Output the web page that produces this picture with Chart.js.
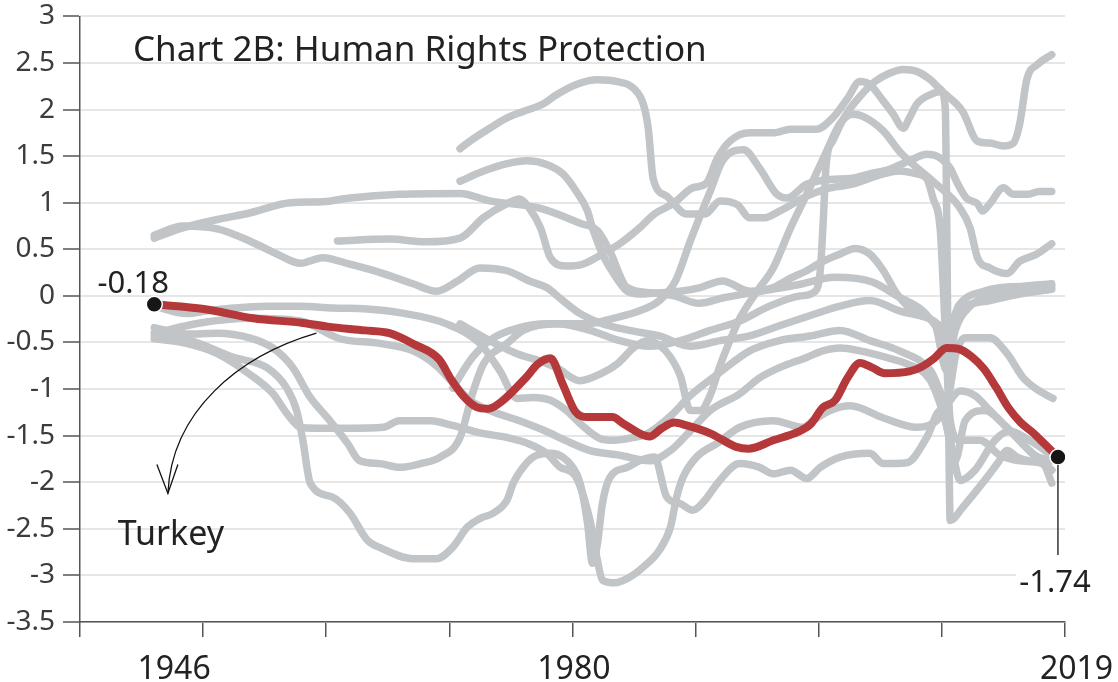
<!DOCTYPE html>
<html><head><meta charset="utf-8">
<script src="https://cdn.jsdelivr.net/npm/chart.js@4"></script>
<style>html,body{margin:0;padding:0;background:#fff;}canvas{display:block;}</style>
</head><body>
<canvas id="c" width="1118" height="682"></canvas>
<script>
// ---------- text ----------
const chartTitle = 'Chart 2B: Human Rights Protection';
const highlightName = 'Turkey';
const endValueLabels = ['-0.18', '-1.74'];
const xTickLabels = ['1946', '1980', '2019'];

// ---------- axes ----------
const yMin = -3.5, yMax = 3, yStep = 0.5;
const xMin = 1940, xMax = 2019.57;

// ---------- data: [year, score] ----------
const turkey = [[1946,-0.09],[1950,-0.14],[1954,-0.24],[1958,-0.29],[1960,-0.33],[1963,-0.37],[1965,-0.4],[1967,-0.52],[1969,-0.68],[1970,-0.9],[1971,-1.08],[1972,-1.19],[1973,-1.21],[1974,-1.14],[1976,-0.88],[1977,-0.73],[1978,-0.67],[1979,-0.95],[1980,-1.24],[1981,-1.3],[1983,-1.3],[1984,-1.38],[1986,-1.51],[1987,-1.42],[1988,-1.36],[1989,-1.39],[1991,-1.48],[1993,-1.62],[1994,-1.64],[1996,-1.55],[1998,-1.46],[1999,-1.38],[2000,-1.2],[2001,-1.12],[2002,-0.88],[2003,-0.72],[2004,-0.77],[2005,-0.83],[2007,-0.81],[2008,-0.76],[2009,-0.67],[2010,-0.56],[2011,-0.57],[2012,-0.65],[2013,-0.78],[2014,-0.98],[2015,-1.2],[2016,-1.36],[2017,-1.47],[2018,-1.6],[2019,-1.73]];

const countryA = [[1946,0.62],[1948.3,0.73],[1951.1,0.82],[1953.7,0.89],[1957,1.0],[1959.6,1.01],[1961.8,1.05],[1965.8,1.09],[1970.7,1.1],[1973.1,1.02],[1977.2,0.94],[1980.4,0.78],[1981.8,0.7],[1982.8,0.48],[1984.2,0.09],[1986.4,0.03],[1988,0.0],[1990,-0.08],[1992,-0.02],[1995,0.05],[1998,0.12],[2001,0.2],[2004,0.15],[2006,0.0],[2008,-0.15],[2010,-0.4],[2011,-0.1],[2013,0.05],[2016,0.1],[2018.5,0.1]];
const countryB = [[1960.8,0.59],[1965,0.61],[1967.9,0.58],[1970.7,0.62],[1972.6,0.84],[1974.5,0.99],[1975.5,1.04],[1976.3,0.94],[1977.2,0.73],[1978,0.41],[1979.3,0.32],[1980.6,0.34],[1982.2,0.45],[1983.6,0.56],[1985.2,0.73],[1986.4,0.88],[1987.9,0.99],[1989.5,1.16],[1990.6,1.21],[1991.5,1.48],[1992.5,1.66],[1994.1,1.75],[1996,1.75],[1997.4,1.79],[1999.5,1.79],[2000.8,1.91],[2002,2.12],[2003,2.3],[2003.8,2.27],[2004.9,2.09],[2005.7,1.95],[2006.5,1.8],[2007,1.91],[2007.6,2.06],[2008.7,2.16],[2009.5,2.19],[2010.3,2.12],[2011.3,1.98],[2012.5,1.66],[2013.5,1.64],[2014.6,1.61],[2015.4,1.64],[2015.9,1.84],[2016.5,2.33],[2017.3,2.48],[2018.5,2.59]];
const countryC = [[1970.7,1.58],[1971.7,1.68],[1973.1,1.8],[1974.5,1.91],[1975.8,1.98],[1977.4,2.06],[1978.5,2.16],[1980.1,2.27],[1981.8,2.32],[1983.4,2.3],[1984.7,2.23],[1985.5,2.06],[1985.9,1.8],[1986.3,1.26],[1987.4,1.07],[1989,0.88],[1990.5,0.88],[1991.7,1.02],[1993.1,0.98],[1994.1,0.84],[1995.3,0.84],[1996.5,0.91],[1998.7,1.07],[2000.3,1.15],[2002.4,1.2],[2004.9,1.31],[2006.2,1.34],[2007.6,1.31],[2008.4,1.26],[2008.9,1.05],[2009.5,0.7],[2009.9,-0.37],[2010.3,-1.34],[2011.1,-1.55],[2012.7,-1.55],[2014.3,-1.71],[2015.9,-1.77],[2017.5,-1.79],[2018.5,-1.87]];
const countryD = [[1970.7,1.23],[1972.6,1.34],[1974.5,1.42],[1976.1,1.45],[1977.7,1.41],[1979,1.31],[1980.1,1.12],[1981,0.91],[1981.4,0.73],[1982.2,0.45],[1983.1,0.24],[1984.2,0.05],[1985.2,0.02],[1986.4,0.03],[1988.5,0.05],[1990.1,0.09],[1991.9,0.16],[1994.1,0.05],[1996,0.09],[1997.4,0.19],[1998.7,0.27],[2000,0.37],[2001.4,0.45],[2002.6,0.51],[2003.8,0.45],[2004.9,0.27],[2006,0.02],[2007.6,-0.19],[2009.1,-0.32],[2010,-0.8],[2010.7,-0.37],[2011.9,-0.11],[2013.5,0],[2015.7,0.09],[2018.5,0.13]];
const countryE = [[1946,-0.11],[1948.6,-0.19],[1950.3,-0.16],[1952.4,-0.13],[1955.1,-0.11],[1957.8,-0.11],[1960.4,-0.13],[1963.2,-0.14],[1965.8,-0.18],[1969.6,-0.3],[1972.3,-0.51],[1973.9,-0.8],[1975.3,-1.1],[1976.6,-1.09],[1978,-1.12],[1979.3,-1.23],[1980.4,-1.37],[1982,-1.53],[1983.1,-1.55],[1984.7,-1.52],[1985.8,-1.48],[1987.7,-1.29],[1989.3,-1.07],[1991.7,-0.82],[1994.1,-0.59],[1996.5,-0.48],[1999,-0.43],[2001.4,-0.37],[2003.8,-0.48],[2006.2,-0.59],[2008.7,-0.8],[2010,-1.12],[2010.8,-0.6],[2011.5,-0.45],[2013.5,-0.45],[2014.9,-0.62],[2016.2,-0.88],[2017.5,-1.02],[2018.6,-1.1]];
const countryF = [[1946,0.65],[1948.3,0.75],[1951.1,0.72],[1953.7,0.59],[1955.9,0.45],[1957.8,0.35],[1959.6,0.41],[1961.8,0.34],[1964.5,0.24],[1966.9,0.13],[1968.8,0.05],[1970.5,0.16],[1972.3,0.3],[1974.5,0.27],[1976.3,0.16],[1977.7,0.09],[1979,-0.05],[1980.4,-0.19],[1982,-0.29],[1984.4,-0.37],[1986.8,-0.43],[1989.3,-0.54],[1991.7,-0.48],[1994.1,-0.43],[1996.5,-0.32],[1999,-0.21],[2001.4,-0.11],[2003.8,-0.05],[2006.2,-0.16],[2008.7,-0.25],[2010.3,-0.37],[2011.1,-0.16],[2013.5,-0.05],[2015.9,0.02],[2018.5,0.07]];
const countryG = [[1946,-0.4],[1949.7,-0.29],[1953.7,-0.24],[1957.8,-0.27],[1961,-0.46],[1964.2,-0.51],[1966.9,-0.59],[1968.8,-0.75],[1970.3,-0.96],[1971.5,-1.12],[1973.1,-1.23],[1975.5,-1.34],[1977.6,-1.45],[1979.2,-1.55],[1981.2,-1.66],[1983.6,-1.71],[1986,-1.77],[1987.7,-1.66],[1989.3,-1.45],[1990.9,-1.23],[1993.3,-1.05],[1994.9,-0.88],[1996.5,-0.77],[1998.7,-0.66],[2000,-0.59],[2001.4,-0.56],[2003,-0.59],[2005.4,-0.67],[2006.8,-0.73],[2008.7,-0.91],[2009.9,-1.34],[2010.7,-1.77],[2011.5,-1.34],[2013.1,-1.23],[2014.7,-1.39],[2016.3,-1.61],[2018.5,-1.87]];
const countryH = [[1970.1,-0.99],[1971.7,-0.66],[1973.4,-0.45],[1975.5,-0.34],[1977.7,-0.3],[1981,-0.3],[1983.1,-0.24],[1985.2,-0.16],[1986.8,-0.05],[1988.1,0.16],[1989.3,0.59],[1990.1,0.86],[1990.9,1.12],[1991.9,1.45],[1993.6,1.57],[1994.9,1.37],[1996.3,1.09],[1997.1,1.05],[1998.7,1.2],[2000.6,1.25],[2002.2,1.26],[2003.8,1.31],[2005.4,1.36],[2007,1.45],[2008.4,1.52],[2009.5,1.48],[2010.3,1.37],[2010.8,1.23],[2011.6,1.05],[2012.5,0.99],[2012.9,0.91],[2013.5,0.99],[2014.6,1.16],[2015.4,1.09],[2016.5,1.09],[2017.5,1.12],[2018.5,1.12]];
const countryI = [[1970.7,-0.3],[1973.1,-0.48],[1975.3,-0.62],[1977.2,-0.7],[1978.5,-0.77],[1980.4,-0.91],[1982,-0.84],[1983.4,-0.73],[1984.7,-0.56],[1985.8,-0.48],[1987.3,-0.59],[1988.5,-0.86],[1989.3,-1.23],[1990.1,-1.23],[1990.9,-1.07],[1991.7,-0.75],[1992.5,-0.48],[1993.3,-0.24],[1994.7,0.05],[1996,0.3],[1997.4,0.73],[1998.7,1.09],[2000.3,1.55],[2001.4,1.85],[2002.4,1.95],[2003.2,1.93],[2004.9,1.77],[2006.2,1.55],[2007.3,1.41],[2008.9,1.23],[2011.1,0.94],[2011.9,0.73],[2012.5,0.41],[2013.5,0.3],[2014.9,0.24],[2015.9,0.37],[2017.3,0.45],[2018.5,0.56]];
const countryJ = [[1946,-0.34],[1948.6,-0.41],[1951.1,-0.4],[1953.7,-0.45],[1955.6,-0.56],[1957.2,-0.77],[1958.6,-1.09],[1960,-1.31],[1961.6,-1.58],[1962.6,-1.77],[1964.2,-1.8],[1965.8,-1.84],[1967.5,-1.8],[1969.1,-1.73],[1970.7,-1.52],[1971.7,-1.05],[1972.6,-0.73],[1974.5,-0.51],[1975.8,-0.37],[1978.5,-0.3],[1981.2,-0.37],[1983.6,-0.48],[1986,-0.54],[1988.5,-0.48],[1990.9,-0.37],[1993.3,-0.27],[1995.7,-0.11],[1998.2,0],[1999.4,0.05],[1999.8,0.27],[2000,0.7],[2000.3,1.45],[2000.8,1.66],[2001.8,1.93],[2003,2.14],[2004.2,2.3],[2005.4,2.39],[2006.5,2.43],[2007.6,2.41],[2008.7,2.32],[2009.5,2.22],[2009.9,2.01],[2010,1.02],[2010.1,-0.37],[2010.3,-2.41],[2011.3,-2.27],[2012.9,-2.01],[2014.1,-1.8],[2014.9,-1.66],[2015.7,-1.73],[2016.7,-1.77],[2017.8,-1.8],[2018.5,-2.01]];
const countryK = [[1946,-0.46],[1948.6,-0.51],[1951.1,-0.62],[1953.7,-0.84],[1955.6,-1.05],[1956.7,-1.26],[1957.8,-1.41],[1959.1,-1.42],[1961.8,-1.42],[1964.5,-1.41],[1965.8,-1.34],[1968.3,-1.34],[1970.1,-1.39],[1972.3,-1.47],[1974.5,-1.52],[1976.1,-1.58],[1977.7,-1.69],[1978.8,-1.84],[1980,-1.93],[1981.2,-2.41],[1981.8,-2.84],[1982.2,-3.05],[1983.2,-3.08],[1984.4,-3.02],[1985.5,-2.91],[1986.8,-2.73],[1987.7,-2.48],[1988.2,-2.16],[1988.7,-1.95],[1989.8,-1.73],[1991.5,-1.58],[1993.3,-1.41],[1996,-1.34],[1998.4,-1.41],[1999.2,-1.34],[2000.6,-1.23],[2002.2,-1.18],[2004.9,-1.31],[2007.6,-1.41],[2009.2,-1.34],[2010.3,-1.12],[2011.1,-1.02],[2012.3,-1.07],[2013.5,-1.23],[2014.7,-1.39],[2015.9,-1.55],[2017.1,-1.71],[2018.5,-1.77]];
const countryL = [[1946,-0.43],[1948.9,-0.48],[1952.4,-0.66],[1955.1,-0.77],[1956.7,-0.99],[1957.5,-1.23],[1958,-1.55],[1958.6,-2.01],[1960.4,-2.16],[1961.8,-2.33],[1963.2,-2.62],[1964.2,-2.7],[1966.9,-2.82],[1968.8,-2.82],[1970.1,-2.7],[1971.3,-2.48],[1972.3,-2.39],[1973.4,-2.33],[1974.5,-2.19],[1975,-2.01],[1975.8,-1.84],[1976.6,-1.73],[1978,-1.69],[1979,-1.73],[1979.8,-1.84],[1980.4,-2.01],[1981,-2.44],[1981.4,-2.87],[1981.8,-2.66],[1982.2,-2.23],[1982.8,-1.95],[1984.2,-1.84],[1985.2,-1.77],[1986.4,-1.73],[1987.4,-2.16],[1988.5,-2.23],[1989.5,-2.3],[1990.5,-2.19],[1991.5,-2.01],[1993.3,-1.8],[1994.9,-1.84],[1996,-1.91],[1997.4,-1.87],[1998.7,-1.96],[1999.8,-1.84],[2001.4,-1.73],[2003.8,-1.69],[2004.9,-1.8],[2006.8,-1.79],[2008.4,-1.52],[2009.5,-1.23],[2010.3,-1.55],[2011.1,-1.98],[2012.3,-1.87],[2013.9,-1.55],[2015.1,-1.45],[2016.7,-1.55],[2018.5,-1.71]];

const otherCountries = [countryA, countryB, countryC, countryD, countryE, countryF, countryG, countryH, countryI, countryJ, countryK, countryL];

// ---------- styles ----------
const FONT = '"Noto Sans", "DejaVu Sans", sans-serif';
const GRAY = '#c1c5c8';
const RED = '#b5393b';
const INK = '#222222';
const AXIS = '#555555';

const toXY = arr => arr.map(([x, y]) => ({ x, y }));

const datasets = otherCountries.map(c => ({
  data: toXY(c),
  borderColor: GRAY,
  borderWidth: 7.5,
  pointRadius: 0,
  cubicInterpolationMode: 'monotone',
  borderCapStyle: 'round',
  borderJoinStyle: 'round',
  order: 2
}));
datasets.push({
  label: highlightName,
  data: toXY(turkey),
  borderColor: RED,
  borderWidth: 8,
  cubicInterpolationMode: 'monotone',
  borderCapStyle: 'round',
  borderJoinStyle: 'round',
  pointRadius: ctx => (ctx.dataIndex === 0 || ctx.dataIndex === turkey.length - 1) ? 8 : 0,
  pointBackgroundColor: '#161616',
  pointBorderColor: '#ffffff',
  pointBorderWidth: 1.5,
  order: 1
});

const annotations = {
  id: 'annotations',
  afterDatasetsDraw(chart) {
    const { ctx, chartArea: a, scales: { x, y } } = chart;
    const X = v => x.getPixelForValue(v), Y = v => y.getPixelForValue(v);
    const first = turkey[0], last = turkey[turkey.length - 1];
    const sx = X(first[0]), sy = Y(first[1]);
    const ex = X(last[0]), ey = Y(last[1]);
    ctx.save();
    ctx.fillStyle = INK;
    ctx.textBaseline = 'alphabetic';

    // title
    ctx.font = '35px ' + FONT;
    ctx.textAlign = 'left';
    ctx.fillText(chartTitle, a.left + 53, a.top + 45);

    // start value
    ctx.font = '31px ' + FONT;
    ctx.textAlign = 'center';
    ctx.fillText(endValueLabels[0], sx - 21, sy - 11);

    // end leader + value
    ctx.strokeStyle = '#333';
    ctx.lineWidth = 1.5;
    ctx.beginPath(); ctx.moveTo(ex, ey + 8); ctx.lineTo(ex, ey + 98); ctx.stroke();
    const w = ctx.measureText(endValueLabels[1]).width;
    ctx.fillStyle = '#fff';
    ctx.fillRect(ex - 3 - w / 2 - 3, ey + 106, w + 6, 34);
    ctx.fillStyle = INK;
    ctx.fillText(endValueLabels[1], ex - 3, ey + 135);

    // curved arrow to the "Turkey" label
    const p0 = [X(1959.1), Y(-0.40)];
    const c1 = [X(1952.9), Y(-0.64)];
    const c2 = [X(1947.4), Y(-1.23)];
    const p1 = [X(1947.1), Y(-2.12)];
    ctx.strokeStyle = '#111';
    ctx.lineWidth = 1.3;
    ctx.beginPath();
    ctx.moveTo(p0[0], p0[1]);
    ctx.bezierCurveTo(c1[0], c1[1], c2[0], c2[1], p1[0], p1[1]);
    ctx.stroke();
    ctx.beginPath();
    ctx.moveTo(p1[0] - 11, p1[1] - 29);
    ctx.lineTo(p1[0], p1[1]);
    ctx.lineTo(p1[0] + 10, p1[1] - 29);
    ctx.stroke();

    ctx.font = '34px ' + FONT;
    ctx.textAlign = 'center';
    ctx.fillText(highlightName, p1[0] + 3, p1[1] + 52);

    // x labels
    const xLabelAt = [1947.6, 1979.9, 2020.5];
    ctx.font = '32px ' + FONT;
    ctx.fillStyle = INK;
    xTickLabels.forEach((t, i) => ctx.fillText(t, X(xLabelAt[i]), a.bottom + 57));
    ctx.restore();
  }
};

new Chart(document.getElementById('c'), {
  type: 'line',
  data: { datasets },
  options: {
    responsive: false,
    animation: false,
    devicePixelRatio: 1,
    layout: { padding: { top: 15, right: 53, left: 0, bottom: 0 } },
    plugins: { legend: { display: false }, tooltip: { enabled: false } },
    scales: {
      x: {
        type: 'linear', min: xMin, max: xMax,
        afterBuildTicks: s => { s.ticks = Array.from({ length: 9 }, (_, k) => ({ value: xMin + k * (xMax - xMin) / 8 })); },
        ticks: { autoSkip: false, callback: () => '', maxRotation: 0 },
        grid: { drawOnChartArea: false, drawTicks: true, tickLength: 15, color: AXIS, lineWidth: 1.5 },
        border: { display: true, color: AXIS, width: 1.5 },
        afterFit: s => { s.height = 60; }
      },
      y: {
        min: yMin, max: yMax,
        ticks: { stepSize: yStep, color: '#3c3c3c', padding: 8, font: { family: FONT, size: 28, lineHeight: 0.6 },
                 callback: v => String(Math.round(v * 10) / 10) },
        grid: { color: '#e6e6e6', lineWidth: 2, drawTicks: true, tickLength: 17, tickColor: AXIS, tickWidth: 1.5 },
        border: { display: true, color: AXIS, width: 1.5 },
        afterFit: s => { s.width = 80; }
      }
    }
  },
  plugins: [annotations]
});
</script>
</body></html>
